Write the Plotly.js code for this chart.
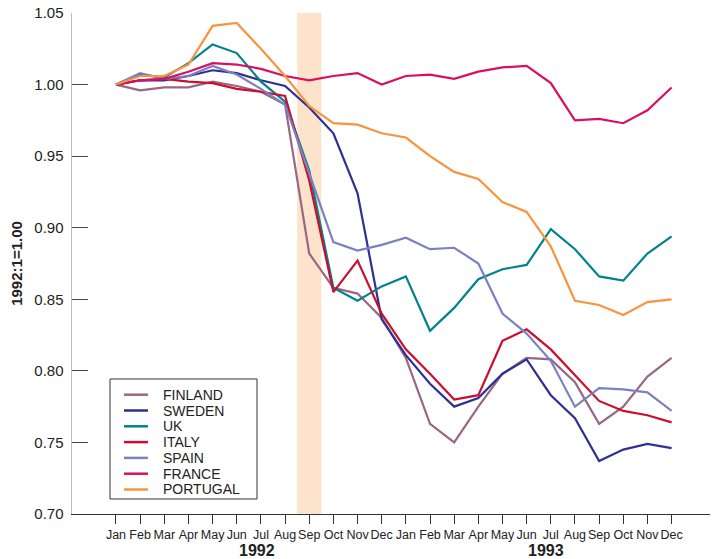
<!DOCTYPE html>
<html>
<head>
<meta charset="utf-8">
<script src="https://cdn.plot.ly/plotly-3.0.1.min.js"></script>
<style>html,body{margin:0;padding:0;background:#fff;}#chart{width:714px;height:559px;}</style>
</head>
<body>
<div id="chart"></div>
<script>
const months = ["Jan","Feb","Mar","Apr","May","Jun","Jul","Aug","Sep","Oct","Nov","Dec",
                "Jan","Feb","Mar","Apr","May","Jun","Jul","Aug","Sep","Oct","Nov","Dec"];
const years = ["1992", "1993"];
const countries = ["FINLAND","SWEDEN","UK","ITALY","SPAIN","FRANCE","PORTUGAL"];
const colors = ["#9b6683","#2e3192","#00838a","#c8102e","#7c80c2","#d90f62","#f7943e"];

const finland  = [1.000,0.996,0.998,0.998,1.002,0.999,0.995,0.986,0.882,0.858,0.854,0.837,
                  0.809,0.763,0.750,0.775,0.798,0.809,0.808,0.792,0.763,0.775,0.796,0.809];
const sweden   = [1.000,1.003,1.003,1.006,1.010,1.008,1.003,0.999,0.984,0.966,0.924,0.836,
                  0.811,0.791,0.775,0.781,0.798,0.808,0.783,0.767,0.737,0.745,0.749,0.746];
const uk       = [1.000,1.007,1.005,1.015,1.028,1.022,1.002,0.988,0.940,0.858,0.849,0.859,
                  0.866,0.828,0.844,0.864,0.871,0.874,0.899,0.885,0.866,0.863,0.882,0.894];
const italy    = [1.000,1.003,1.004,1.002,1.001,0.997,0.995,0.992,0.933,0.855,0.877,0.840,
                  0.815,0.798,0.780,0.783,0.821,0.829,0.815,0.797,0.779,0.772,0.769,0.764];
const spain    = [1.000,1.008,1.004,1.006,1.013,1.007,0.997,0.986,0.938,0.890,0.884,0.888,
                  0.893,0.885,0.886,0.875,0.840,0.826,0.807,0.775,0.788,0.787,0.785,0.772];
const france   = [1.000,1.003,1.004,1.009,1.015,1.014,1.011,1.006,1.003,1.006,1.008,1.000,
                  1.006,1.007,1.004,1.009,1.012,1.013,1.001,0.975,0.976,0.973,0.982,0.998];
const portugal = [1.000,1.006,1.006,1.014,1.041,1.043,1.025,1.006,0.985,0.973,0.972,0.966,
                  0.963,0.950,0.939,0.934,0.918,0.911,0.887,0.849,0.846,0.839,0.848,0.850];

const series = [finland, sweden, uk, italy, spain, france, portugal];
const idx = months.map((m, i) => i);

const traces = series.map((s, k) => ({
  x: idx, y: s, type: "scatter", mode: "lines", name: countries[k],
  line: {color: colors[k], width: 2.2}, showlegend: false, hoverinfo: "x+y+name"
}));

const FONTW = "'Liberation Sans', Arial, sans-serif";

const shapes = [{
  type: "rect", xref: "x", yref: "y", x0: 7.5, x1: 8.5, y0: 0.70, y1: 1.05,
  fillcolor: "#fde3cb", line: {width: 0}, layer: "below"
}];
// legend box
const lx0 = 0.0596, lx1 = 0.29, ly0 = 0.030, ly1 = 0.2695;
shapes.push({type: "rect", xref: "paper", yref: "paper", x0: lx0, x1: lx1, y0: ly0, y1: ly1,
  line: {color: "#333", width: 1}, fillcolor: "rgba(255,255,255,0)"});
const annotations = [];
const rowTop = (514 - 394.7) / 501, rowStep = 15.8 / 501;
countries.forEach((c, i) => {
  const yy = rowTop - i * rowStep;
  shapes.push({type: "line", xref: "paper", yref: "paper", x0: 0.0815, x1: 0.119, y0: yy, y1: yy,
    line: {color: colors[i], width: 2.5}});
  annotations.push({xref: "paper", yref: "paper", x: 0.1416, y: yy, xanchor: "left", yanchor: "middle",
    text: c, showarrow: false, borderpad: 0, font: {family: FONTW, size: 14, color: "#222"}});
});
// year labels
annotations.push({xref: "x", yref: "paper", x: 5.84, y: -0.0719, yanchor: "middle", text: "<b>" + years[0] + "</b>",
  showarrow: false, font: {family: FONTW, size: 16, color: "#222"}});
annotations.push({xref: "x", yref: "paper", x: 17.8, y: -0.0719, yanchor: "middle", text: "<b>" + years[1] + "</b>",
  showarrow: false, font: {family: FONTW, size: 16, color: "#222"}});

const layout = {
  width: 714, height: 559,
  margin: {l: 72, r: 4, t: 13, b: 45},
  paper_bgcolor: "#fff", plot_bgcolor: "#fff",
  showlegend: false,
  xaxis: {
    range: [-1.82, 24.59], tickvals: idx, ticktext: months,
    showgrid: false, zeroline: false, showline: true, linecolor: "#333", linewidth: 1.2,
    ticks: "outside", ticklen: 9, tickcolor: "#333", tickwidth: 1,
    tickfont: {family: FONTW, size: 12.5, color: "#222"}, tickangle: 0
  },
  yaxis: {
    range: [0.70, 1.05], tickvals: [0.70,0.75,0.80,0.85,0.90,0.95,1.00,1.05],
    tickformat: ".2f", ticklabelstandoff: 4,
    showgrid: false, zeroline: false, showline: true, linecolor: "#bbb", linewidth: 1.5,
    ticks: "inside", ticklen: 16, tickcolor: "#444", tickwidth: 1.2,
    tickfont: {family: FONTW, size: 15, color: "#222"},
    title: {text: "<b>1992:1=1.00</b>", font: {family: FONTW, size: 15, color: "#222"}, standoff: 8}
  },
  shapes: shapes, annotations: annotations
};

Plotly.newPlot("chart", traces, layout, {displayModeBar: false, staticPlot: true});
</script>
</body>
</html>
